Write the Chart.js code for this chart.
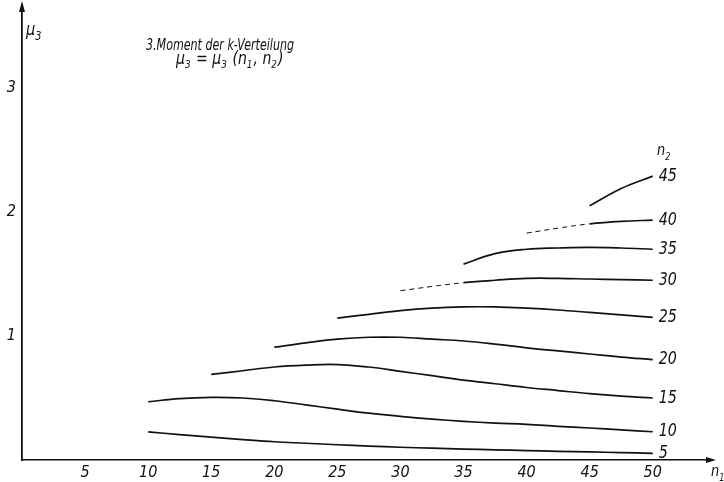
<!DOCTYPE html>
<html>
<head>
<meta charset="utf-8">
<script src="https://cdn.jsdelivr.net/npm/chart.js"></script>
<style>
  html, body { margin: 0; padding: 0; background: #fff; }
  #wrap { width: 724px; height: 482px; }
</style>
</head>
<body>
<div id="wrap"><canvas id="chart"></canvas></div>
<script>
// n1 positions (x) and one μ3 series per n2 value
const n1 = [10, 12.5, 15, 17.5, 20, 22.5, 25, 27.5, 30, 32.5, 35, 37.5, 40, 42.5, 45, 47.5, 50];
const n2Labels = ["5", "10", "15", "20", "25", "30", "35", "40", "45"];
const mu5  = [0.227, 0.205, 0.185, 0.165, 0.147, 0.135, 0.123, 0.112, 0.103, 0.095, 0.088, 0.082, 0.076, 0.07, 0.065, 0.06, 0.054];
const mu10 = [0.47, 0.495, 0.505, 0.5, 0.478, 0.445, 0.41, 0.378, 0.352, 0.33, 0.312, 0.298, 0.288, 0.272, 0.258, 0.243, 0.228];
const mu15 = [null, null, 0.69, 0.72, 0.75, 0.765, 0.77, 0.75, 0.715, 0.68, 0.645, 0.615, 0.585, 0.56, 0.535, 0.515, 0.5];
const mu20 = [null, null, null, null, 0.91, 0.945, 0.975, 0.99, 0.99, 0.975, 0.96, 0.935, 0.905, 0.88, 0.855, 0.83, 0.81];
const mu25 = [null, null, null, null, null, null, 1.145, 1.175, 1.205, 1.225, 1.235, 1.235, 1.225, 1.21, 1.19, 1.17, 1.15];
const mu30 = [null, null, null, null, null, null, null, null, 1.365, 1.4, 1.43, 1.45, 1.465, 1.465, 1.46, 1.455, 1.45];
const mu35 = [null, null, null, null, null, null, null, null, null, null, 1.58, 1.665, 1.7, 1.71, 1.715, 1.71, 1.7];
const mu40 = [null, null, null, null, null, null, null, null, null, null, null, null, 1.83, 1.87, 1.905, 1.925, 1.935];
const mu45 = [null, null, null, null, null, null, null, null, null, null, null, null, null, null, 2.05, 2.19, 2.29];
const xTicks = [5, 10, 15, 20, 25, 30, 35, 40, 45, 50];
const yTicks = [1, 2, 3];

const FONT = "'Liberation Sans Narrow', 'DejaVu Sans Condensed', sans-serif";
const series = [mu5, mu10, mu15, mu20, mu25, mu30, mu35, mu40, mu45];
// faint / broken strokes at the start of some curves in the print
const dashedUntil = { "30": 2, "40": 2 };

const datasets = series.map((vals, i) => {
    const dash = dashedUntil[n2Labels[i]];
    return {
        label: n2Labels[i],
        data: n1.map((x, j) => ({ x, y: vals[j] })).filter(p => p.y !== null),
        borderColor: "#111",
        borderWidth: 1.7,
        pointRadius: 0,
        tension: 0.4,
        fill: false,
        segment: dash ? {
            borderDash: ctx => (ctx.p0DataIndex < dash ? [5, 4] : undefined),
            borderWidth: ctx => (ctx.p0DataIndex < dash ? 1 : 1.7),
        } : undefined,
    };
});

// draw text squeezed to look like the narrow stencil lettering
function narrowText(c, txt, x, y, size, squeeze) {
    c.save();
    c.font = "italic " + size + "px " + FONT;
    c.translate(x, y);
    c.scale(squeeze, 1);
    c.fillText(txt, 0, 0);
    const w = c.measureText(txt).width * squeeze;
    c.restore();
    return w;
}

const decor = {
    id: "decor",
    afterDraw(chart) {
        const c = chart.ctx;
        const xs = chart.scales.x, ys = chart.scales.y;
        const a = chart.chartArea;
        c.save();
        c.fillStyle = "#111";
        // arrow heads
        c.beginPath();
        c.moveTo(a.right + 4, a.bottom);
        c.lineTo(a.right - 6, a.bottom - 3);
        c.lineTo(a.right - 6, a.bottom + 3);
        c.closePath();
        c.fill();
        c.beginPath();
        c.moveTo(a.left, a.top - 4);
        c.lineTo(a.left - 3, a.top + 7);
        c.lineTo(a.left + 3, a.top + 7);
        c.closePath();
        c.fill();

        // curve end labels
        c.textBaseline = "middle";
        c.textAlign = "left";
        chart.data.datasets.forEach(ds => {
            const last = ds.data[ds.data.length - 1];
            narrowText(c, ds.label, xs.getPixelForValue(last.x) + 6, ys.getPixelForValue(last.y), 18, 0.88);
        });

        c.textBaseline = "alphabetic";
        const sub = (txt, s, x, y, size) => {
            const w = narrowText(c, txt, x, y, size, 0.9);
            narrowText(c, s, x + w, y + size * 0.3, Math.round(size * 0.65), 0.9);
        };
        sub("n", "2", 657, 155, 16);
        sub("n", "1", 711, 476, 16);
        sub("\u03bc", "3", 26, 35, 18);

        // title, squeezed to the printed width
        c.font = "italic 16px " + FONT;
        const title = "3.Moment der k-Verteilung";
        const tw = c.measureText(title).width;
        narrowText(c, title, 146, 50, 16, 148 / tw);
        let x = 176;
        const parts = [["\u03bc", "3"], [" = \u03bc", "3"], [" (n", "1"], [", n", "2"], [")", ""]];
        parts.forEach(([t, s]) => {
            x += narrowText(c, t, x, 64, 17, 0.92);
            if (s) x += narrowText(c, s, x, 68, 11, 0.9) + 1;
        });
        c.restore();
    },
};

new Chart(document.getElementById("chart"), {
    type: "line",
    data: { datasets },
    plugins: [decor],
    options: {
        responsive: true,
        maintainAspectRatio: false,
        animation: false,
        layout: { padding: { top: 5, right: 12, left: 0, bottom: 0 } },
        plugins: { legend: { display: false }, tooltip: { enabled: false } },
        scales: {
            x: {
                type: "linear",
                min: 0,
                max: 54.7,
                afterFit: s => { s.height = 22; s.paddingLeft = 0; s.paddingRight = 0; },
                afterBuildTicks: s => { s.ticks = xTicks.map(v => ({ value: v })); },
                grid: { display: false, drawTicks: false },
                border: { display: true, color: "#111", width: 1.5 },
                ticks: {
                    padding: 3,
                    color: "#111",
                    font: { family: FONT, size: 16, style: "italic" },
                    maxRotation: 0,
                },
            },
            y: {
                type: "linear",
                min: 0,
                max: 3.67,
                afterFit: s => { s.width = 22; s.paddingTop = 0; s.paddingBottom = 0; },
                afterBuildTicks: s => { s.ticks = yTicks.map(v => ({ value: v })); },
                grid: { display: false, drawTicks: false },
                border: { display: true, color: "#111", width: 1.8 },
                ticks: {
                    padding: 6,
                    color: "#111",
                    font: { family: FONT, size: 16, style: "italic" },
                },
            },
        },
    },
});
</script>
</body>
</html>
